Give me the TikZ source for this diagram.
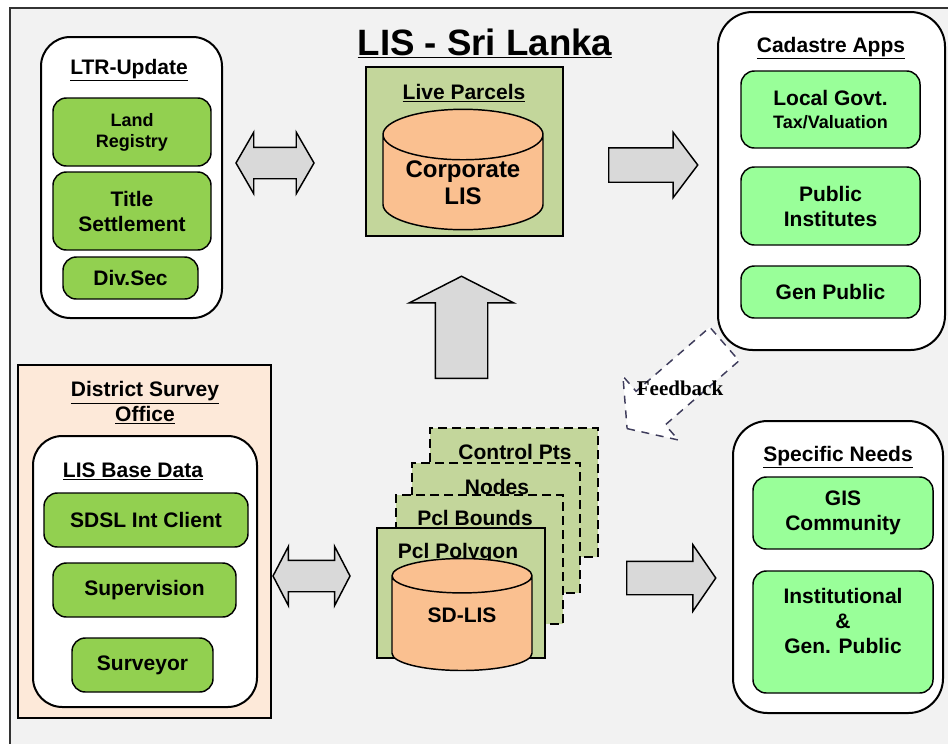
\documentclass[tikz,border=0pt]{standalone}
\usepackage{fontspec}
\setmainfont{Liberation Sans}
\newfontfamily\fbfont{Liberation Serif}
\usetikzlibrary{shapes.geometric, shapes.arrows, positioning}

\definecolor{framegray}{HTML}{F2F2F2}
\definecolor{ltrgreen}{HTML}{92D050}
\definecolor{appgreen}{HTML}{99FF99}
\definecolor{parcelgreen}{HTML}{C3D69B}
\definecolor{dborange}{HTML}{FAC090}
\definecolor{dsopeach}{HTML}{FDE9D9}
\definecolor{arrowgray}{HTML}{D9D9D9}
\definecolor{fbline}{HTML}{3F3D5C}

\begin{document}
\begin{tikzpicture}[
  x=0.75pt, y=-0.75pt,
  font=\fontsize{15.75}{18.75}\selectfont\bfseries,
  dims/.style 2 args={minimum width=#1*0.75pt, minimum height=#2*0.75pt},
  arrowdims/.style n args={3}{minimum height=#1*0.75pt, minimum width=#2*0.75pt, inner xsep=0pt, inner ysep=#3*0.375pt},
  panel/.style={rectangle, draw, line width=1.5pt, fill=white, rounded corners=22pt, inner sep=0pt},
  flat/.style={rectangle, draw, line width=1.1pt, inner sep=0pt},
  sheetdash/.style={dash pattern=on 7pt off 3.5pt},
  tile/.style={rectangle, draw, line width=1.1pt, rounded corners=10pt, align=center, inner sep=0pt},
  ltrtile/.style={tile, fill=ltrgreen},
  apptile/.style={tile, fill=appgreen},
  db/.style={cylinder, shape border rotate=90, draw, line width=1.1pt, fill=dborange, align=center, inner sep=0pt, anchor=shape center},
  blk/.style={draw, line width=1.1pt, fill=arrowgray},
  hdr/.style={inner sep=0pt, align=center}]
  % frame and title
  \useasboundingbox (0,0) rectangle (948,743);
  \clip (0,0) rectangle (948,743);
  \draw[line width=1.5pt, draw=black!80, fill=framegray] (10,8) rectangle (960,760);
  \node[hdr, anchor=base, font=\fontsize{27.5}{30}\selectfont\bfseries] (title) at (485,55) {\underline{LIS - Sri Lanka}};

  % LTR update
  \node[panel, dims={181}{281}] (ltr) at (131.5,177.5) {};
  \node[hdr, anchor=base] (ltrtitle) at (129,74) {\underline{LTR-Update}};
  \node[ltrtile, dims={158}{68}, font=\fontsize{13.5}{15.75}\selectfont\bfseries] (landreg) at (132,132) {Land\\Registry};
  \node[ltrtile, dims={158}{78}] (titleset) at (132,211) {Title\\Settlement};
  \node[ltrtile, dims={135}{42}] (divsec) at (130.5,278) {Div.Sec};

  % live parcels
  \node[flat, fill=parcelgreen, dims={197}{169}] (live) at (464.5,151.5) {};
  \node[hdr, anchor=base] (livetitle) at (464,99) {\underline{Live Parcels}};
  \node[db, dims={160}{113}, aspect=0.44, font=\fontsize{18}{20.25}\selectfont\bfseries] (corplis) at (463,169.5) {Corporate\\LIS};

  % feedback
  \node[single arrow, draw=fbline, fill=white, line width=1.1pt, dash pattern=on 6pt off 5pt, rotate=221, anchor=tail,
        single arrow head extend=20*0.75pt, single arrow tip angle=107, arrowdims={129}{83}{43}] (fb) at (725,343.5) {};
  \node[anchor=base, inner sep=0pt, font=\fbfont\fontsize{15.75}{18}\selectfont\bfseries] (fbtxt) at (680,395) {Feedback};

  % cadastre apps
  \node[panel, rounded corners=26pt, dims={227}{338}] (cad) at (831.5,181) {};
  \node[hdr, anchor=base] (cadtitle) at (831,52) {\underline{Cadastre Apps}};
  \node[apptile, dims={179}{77}] (lgov) at (830.5,109.5) {Local Govt.\\[-1.5pt]{\fontsize{13.5}{16}\selectfont Tax/Valuation}};
  \node[apptile, dims={179}{78}] (pubinst) at (830.5,206) {Public\\Institutes};
  \node[apptile, dims={179}{52}] (genpub) at (830.5,292) {Gen Public};

  % district survey office
  \node[flat, fill=dsopeach, dims={253}{353}] (dso) at (144.5,541.5) {};
  \node[hdr] (dsotitle) at (145,403) {\underline{District Survey}\\\underline{Office}};
  \node[panel, dims={224}{271}] (base) at (145,571.5) {};
  \node[hdr, anchor=base] (basetitle) at (133,477) {\underline{LIS Base Data}};
  \node[ltrtile, dims={204}{54}] (sdsl) at (146,520) {SDSL Int Client};
  \node[ltrtile, dims={183}{54}] (superv) at (144.5,590) {Supervision};
  \node[ltrtile, dims={141}{54}] (surveyor) at (142.5,665) {Surveyor};

  % SD-LIS layers
  \node[flat, sheetdash, fill=parcelgreen, dims={168}{129}] (ctrl) at (514,492.5) {};
  \node[hdr, anchor=base] (ctrltxt) at (515,459) {Control Pts};
  \node[flat, sheetdash, fill=parcelgreen, dims={168}{130}] (nodes) at (496,528) {};
  \node[hdr, anchor=base] (nodestxt) at (497,494) {Nodes};
  \node[flat, sheetdash, fill=parcelgreen, dims={167}{129}] (bounds) at (479.5,559.5) {};
  \node[hdr, anchor=base] (boundstxt) at (475,525) {Pcl Bounds};
  \node[flat, fill=parcelgreen, dims={168}{130}] (poly) at (461,593) {};
  \node[hdr, anchor=base] (polytxt) at (458,558) {Pcl Polygon};
  \node[db, dims={140}{112}, aspect=0.5, text depth=12pt] (sdlis) at (462,614.5) {SD-LIS};

  % specific needs
  \node[panel, rounded corners=26pt, dims={210}{292}] (spec) at (838,567) {};
  \node[hdr, anchor=base] (spectitle) at (838,461) {\underline{Specific Needs}};
  \node[apptile, dims={180}{72}] (gis) at (843,513) {GIS\\Community};
  \node[apptile, dims={180}{122}, text depth=16pt] (inst) at (843,632) {Institutional\\\&\\Gen. Public};

  % block arrows
  \node[blk, double arrow, double arrow head extend=15*0.75pt, double arrow tip angle=120, arrowdims={78}{60}{30}] (ltrlink) at (275,163) {};
  \node[blk, single arrow, anchor=tail, single arrow head extend=15.5*0.75pt, single arrow tip angle=106, arrowdims={89}{64}{33}] (applink) at (608,165) {};
  \node[blk, single arrow, rotate=90, anchor=tail, single arrow head extend=26*0.75pt, single arrow tip angle=126, arrowdims={102}{103}{51}] (uplink) at (461.5,379) {};
  \node[blk, double arrow, double arrow head extend=14*0.75pt, double arrow tip angle=125, arrowdims={77}{58}{30}] (baselink) at (311.5,576) {};
  \node[blk, single arrow, anchor=tail, single arrow head extend=16.5*0.75pt, single arrow tip angle=111, arrowdims={89}{65}{32}] (needlink) at (626,578) {};
\end{tikzpicture}
\end{document}
